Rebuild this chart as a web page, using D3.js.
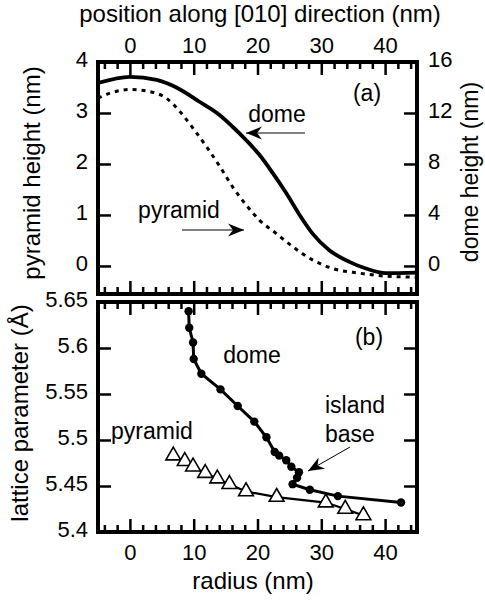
<!DOCTYPE html>
<html><head><meta charset="utf-8">
<script src="https://cdn.jsdelivr.net/npm/d3@7"></script>
<style>
body{margin:0;background:#fff}
text{font-family:"Liberation Sans",Arial,Helvetica,sans-serif;fill:#000}
</style>
</head><body><svg id="c" width="485" height="601"></svg>
<script>
// ---- data ----
const domePosX = [-5, 0, 4.2, 7.3, 10.9, 14.06, 16.1, 18.2, 20.3, 22.4, 24.5, 26.6, 28.6, 31.25, 34.4, 37, 40.1, 45];
const domeHeight = [14.36, 14.84, 14.6, 14.0, 12.88, 11.84, 10.92, 9.88, 8.72, 7.28, 5.72, 4.0, 2.56, 1.24, 0.32, -0.2, -0.56, -0.52];
const pyrPosX = [-5, -3.1, 0, 3.1, 5.7, 8.1, 9.9, 12.0, 14.1, 16.1, 18.2, 20.3, 22.9, 25.5, 28.6, 31.8, 35.9, 40.1, 45];
const pyramidHeight = [3.29, 3.39, 3.46, 3.42, 3.29, 2.99, 2.70, 2.34, 1.95, 1.55, 1.20, 0.90, 0.64, 0.38, 0.12, -0.05, -0.14, -0.20, -0.22];
const domeRadius = [9.2, 9.3, 9.9, 10.0, 11.2, 14.2, 16.9, 19.5, 21.4, 22.7, 23.4, 24.5, 25.3, 26.5, 26.2, 25.5, 28.2, 32.6, 42.5];
const domeLattice = [5.640, 5.622, 5.606, 5.588, 5.572, 5.555, 5.537, 5.520, 5.503, 5.487, 5.483, 5.478, 5.471, 5.465, 5.459, 5.452, 5.446, 5.439, 5.432];
const pyrRadius = [6.8, 8.6, 9.9, 11.8, 13.7, 15.6, 18.2, 23.0, 30.7, 33.75, 36.6];
const pyrLattice = [5.483, 5.477, 5.471, 5.464, 5.458, 5.452, 5.444, 5.438, 5.432, 5.425, 5.418];
const xTicks = [0, 10, 20, 30, 40];
const xMinorTicks = [-4, -2, 2, 4, 6, 8, 12, 14, 16, 18, 22, 24, 26, 28, 32, 34, 36, 38, 42, 44];
const heightTicks = [0, 1, 2, 3, 4];
const domeTicks = [0, 4, 8, 12, 16];
const latticeTicks = [5.4, 5.45, 5.5, 5.55, 5.6, 5.65];

// ---- layout ----
const L = 98, R = 417;
const aT = 62, aB = 294;
const bT = 302, bB = 532;
const MAJ = 13, MIN = 7;

const svg = d3.select("#c");
const x = d3.scaleLinear().domain([-5, 45]).range([L, R]);
const yPyr = d3.scaleLinear().domain([-0.55, 4]).range([aB, aT]);
const yDome = d3.scaleLinear().domain([-2.2, 16]).range([aB, aT]);
const yLat = d3.scaleLinear().domain([5.4, 5.65]).range([bB, bT]);

function styleAxis(g, fs) {
  g.select(".domain").remove();
  g.selectAll("line").attr("stroke", "#000").attr("stroke-width", 2.5);
  g.selectAll("text").attr("font-size", fs).attr("font-family", "Liberation Sans, Arial, sans-serif").attr("fill", "#000");
}

// clip paths
const defs = svg.append("defs");
defs.append("clipPath").attr("id", "clipA").append("rect").attr("x", L).attr("y", aT).attr("width", R - L).attr("height", aB - aT);

// ===== panel (a) =====
const gTopA = svg.append("g").attr("transform", `translate(0,${aT})`)
  .call(d3.axisTop(x).tickValues(xTicks).tickSize(-MAJ).tickPadding(9).tickFormat(d3.format("d")));
styleAxis(gTopA, 22);
svg.append("g").attr("transform", `translate(0,${aT})`)
  .call(d3.axisTop(x).tickValues(xMinorTicks).tickSize(-MIN).tickFormat("")).call(g => styleAxis(g, 22));
svg.append("g").attr("transform", `translate(0,${aB})`)
  .call(d3.axisBottom(x).tickValues(xTicks).tickSize(-MAJ).tickFormat("")).call(g => styleAxis(g, 22));
svg.append("g").attr("transform", `translate(0,${aB})`)
  .call(d3.axisBottom(x).tickValues(xMinorTicks).tickSize(-MIN).tickFormat("")).call(g => styleAxis(g, 22));
const gLeftA = svg.append("g").attr("transform", `translate(${L},0)`)
  .call(d3.axisLeft(yPyr).tickValues(heightTicks).tickSize(-MAJ).tickPadding(10).tickFormat(d3.format("d")));
styleAxis(gLeftA, 22);
gLeftA.selectAll("text").attr("dy", "0.22em");
const gRightA = svg.append("g").attr("transform", `translate(${R},0)`)
  .call(d3.axisRight(yDome).tickValues(domeTicks).tickSize(-MAJ).tickPadding(11).tickFormat(d3.format("d")));
styleAxis(gRightA, 22);
gRightA.selectAll("text").attr("dy", "0.22em");

// curves
const lineDome = d3.line().x((d, i) => x(domePosX[i])).y(d => yDome(d)).curve(d3.curveMonotoneX);
const linePyr = d3.line().x((d, i) => x(pyrPosX[i])).y(d => yPyr(d)).curve(d3.curveMonotoneX);
const gc = svg.append("g").attr("clip-path", "url(#clipA)");
gc.append("path").datum(pyramidHeight).attr("d", linePyr).attr("fill", "none")
  .attr("stroke", "#000").attr("stroke-width", 3).attr("stroke-dasharray", "4,5");
gc.append("path").datum(domeHeight).attr("d", lineDome).attr("fill", "none")
  .attr("stroke", "#000").attr("stroke-width", 3.8);

// frame a
svg.append("rect").attr("x", L).attr("y", aT).attr("width", R - L).attr("height", aB - aT)
  .attr("fill", "none").attr("stroke", "#000").attr("stroke-width", 4);

// arrows
function arrow(x1, y1, x2, y2, w) {
  svg.append("line").attr("x1", x1).attr("y1", y1).attr("x2", x2).attr("y2", y2)
    .attr("stroke", "#000").attr("stroke-width", w);
  const ang = Math.atan2(y2 - y1, x2 - x1) * 180 / Math.PI;
  svg.append("path").attr("d", "M0,0 L-16,-6.5 L-11,0 L-16,6.5 Z").attr("fill", "#000")
    .attr("transform", `translate(${x2},${y2}) rotate(${ang})`);
}
function label(t, px, py, anchor, fs) {
  svg.append("text").attr("x", px).attr("y", py).attr("text-anchor", anchor || "middle")
    .attr("font-size", fs || 23).text(t);
}
label("(a)", 367, 101);
label("dome", 277, 122);
arrow(305, 133, 246, 133, 1.2);
label("pyramid", 179, 218);
arrow(182, 230, 244, 230, 1.2);

// ===== panel (b) =====
svg.append("g").attr("transform", `translate(0,${bT})`)
  .call(d3.axisTop(x).tickValues(xTicks).tickSize(-MAJ).tickFormat("")).call(g => styleAxis(g, 22));
svg.append("g").attr("transform", `translate(0,${bT})`)
  .call(d3.axisTop(x).tickValues(xMinorTicks).tickSize(-MIN).tickFormat("")).call(g => styleAxis(g, 22));
const gBotB = svg.append("g").attr("transform", `translate(0,${bB})`)
  .call(d3.axisBottom(x).tickValues(xTicks).tickSize(-MAJ).tickPadding(12).tickFormat(d3.format("d")));
styleAxis(gBotB, 22);
svg.append("g").attr("transform", `translate(0,${bB})`)
  .call(d3.axisBottom(x).tickValues(xMinorTicks).tickSize(-MIN).tickFormat("")).call(g => styleAxis(g, 22));
const gLeftB = svg.append("g").attr("transform", `translate(${L},0)`)
  .call(d3.axisLeft(yLat).tickValues(latticeTicks).tickSize(-MAJ).tickPadding(10).tickFormat(d => d3.format("")(+d.toFixed(2))));
styleAxis(gLeftB, 22);
gLeftB.selectAll("text").attr("dy", "0.22em");
svg.append("g").attr("transform", `translate(${R},0)`)
  .call(d3.axisRight(yLat).tickValues(latticeTicks).tickSize(-MAJ).tickFormat("")).call(g => styleAxis(g, 22));

// series b
const linePB = d3.line().x((d, i) => x(pyrRadius[i])).y(d => yLat(d));
svg.append("path").datum(pyrLattice).attr("d", linePB).attr("fill", "none").attr("stroke", "#000").attr("stroke-width", 2.2);
const lineDB = d3.line().x((d, i) => x(domeRadius[i])).y(d => yLat(d));
svg.append("path").datum(domeLattice).attr("d", lineDB).attr("fill", "none").attr("stroke", "#000").attr("stroke-width", 3);
svg.append("g").selectAll("circle").data(domeLattice).join("circle")
  .attr("cx", (d, i) => x(domeRadius[i])).attr("cy", d => yLat(d)).attr("r", 4.2).attr("fill", "#000");
const tri = d3.symbol().type(d3.symbolTriangle).size(95);
svg.append("g").selectAll("path").data(pyrLattice).join("path")
  .attr("d", tri).attr("transform", (d, i) => `translate(${x(pyrRadius[i])},${yLat(d)})`)
  .attr("fill", "#fff").attr("stroke", "#000").attr("stroke-width", 1.6);

// frame b
svg.append("rect").attr("x", L).attr("y", bT).attr("width", R - L).attr("height", bB - bT)
  .attr("fill", "none").attr("stroke", "#000").attr("stroke-width", 4);

label("(b)", 369, 345);
label("dome", 252, 363);
label("island", 325, 413, "start");
label("base", 325, 442, "start");
label("pyramid", 111, 439, "start");
arrow(350, 447, 308, 471, 1);

// ===== axis titles =====
label("position along [010] direction (nm)", 260, 22, "middle", 24);
label("radius (nm)", 253, 589, "middle", 24);
svg.append("text").attr("transform", "translate(40,173) rotate(-90)").attr("text-anchor", "middle")
  .attr("font-size", 24).text("pyramid height (nm)");
svg.append("text").attr("transform", "translate(478,172) rotate(-90)").attr("text-anchor", "middle")
  .attr("font-size", 23).text("dome height (nm)");
svg.append("text").attr("transform", "translate(28,413) rotate(-90)").attr("text-anchor", "middle")
  .attr("font-size", 24).text("lattice parameter (Å)");
</script>
</body></html>
